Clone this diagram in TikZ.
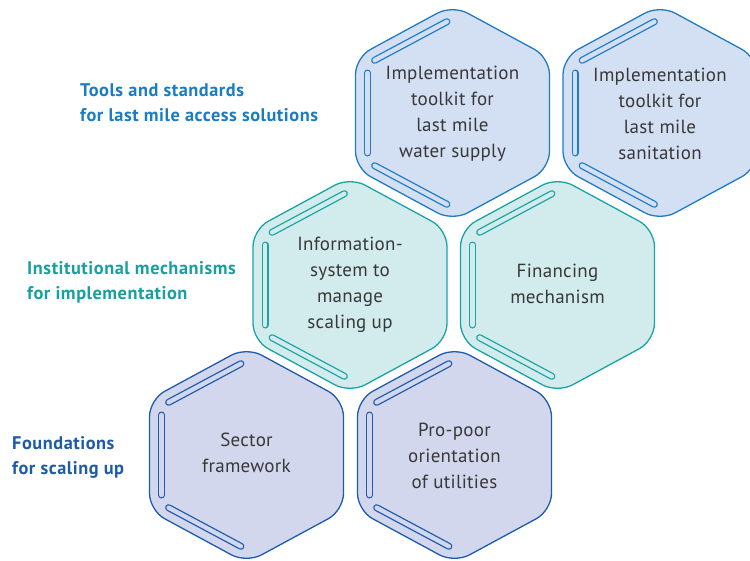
\documentclass[tikz,border=0pt]{standalone}
\usepackage{fontspec}
\setmainfont{PT Sans}
\definecolor{topS}{HTML}{1F7BC4}
\definecolor{topF}{HTML}{D3E0F3}
\definecolor{midS}{HTML}{1BA3A3}
\definecolor{midF}{HTML}{D2EBED}
\definecolor{botS}{HTML}{1F5BAA}
\definecolor{botF}{HTML}{D3D7ED}
\definecolor{txt}{HTML}{383838}
\definecolor{labTop}{HTML}{1A7CC2}
\definecolor{labMid}{HTML}{17A0A0}
\definecolor{labBot}{HTML}{1D5BA8}
\newcommand\hexcell[4]{%
  \begin{scope}[shift={(#1,#2)}]
    \draw[draw=#3, fill=#4, line width=1.3pt, rounded corners=17pt]
      (0,-108) -- (97,-55.5) -- (97,55.5) -- (0,108) -- (-97,55.5) -- (-97,-55.5) -- cycle;
    \foreach \a/\b in {{(-77.9,-52.7)}/{(-5.6,-91.3)},{(-85,-40)}/{(-85,40)},{(-77.9,52.7)}/{(-5.6,91.3)}}{
      \draw[draw=#3, line width=7pt, line cap=round] \a -- \b;
      \draw[draw=#4, line width=4.4pt, line cap=round] \a -- \b;
    }
  \end{scope}}
\tikzset{
  hextext/.style={text=txt, align=center, inner sep=0pt, font=\fontsize{19}{26}\selectfont\addfontfeature{LetterSpace=1.5}},
  grouplabel/.style={anchor=west, align=left, inner sep=0pt, font=\bfseries\fontsize{18.3}{25}\selectfont\addfontfeature{LetterSpace=3}}
}
\begin{document}
\begin{tikzpicture}[x=1pt,y=-1pt]
\clip (0,0) rectangle (750,560);
\hexcell{452.5}{113}{topS}{topF}
\hexcell{660}{113}{topS}{topF}
\hexcell{350}{285}{midS}{midF}
\hexcell{557.5}{285}{midS}{midF}
\hexcell{246.5}{455}{botS}{botF}
\hexcell{454.5}{455}{botS}{botF}
\node[hextext] (water) at (452.5,113.5) {Implementation\\toolkit for\\last mile\\water supply};
\node[hextext] (sanit) at (660,113.5) {Implementation\\toolkit for\\last mile\\sanitation};
\node[hextext] (info) at (350,285) {Information-\\system to\\manage\\scaling up};
\node[hextext] (fin) at (557.5,284) {Financing\\mechanism};
\node[hextext] (sector) at (246.5,453) {Sector\\framework};
\node[hextext] (propoor) at (454.5,456) {Pro-poor\\orientation\\of utilities};
\node[grouplabel, text=labTop] (ltop) at (80,102.5) {Tools and standards\\for last mile access solutions};
\node[grouplabel, text=labMid] (lmid) at (27,282.5) {Institutional mechanisms\\for implementation};
\node[grouplabel, text=labBot] (lbot) at (12,457) {Foundations\\for scaling up};
\end{tikzpicture}
\end{document}
